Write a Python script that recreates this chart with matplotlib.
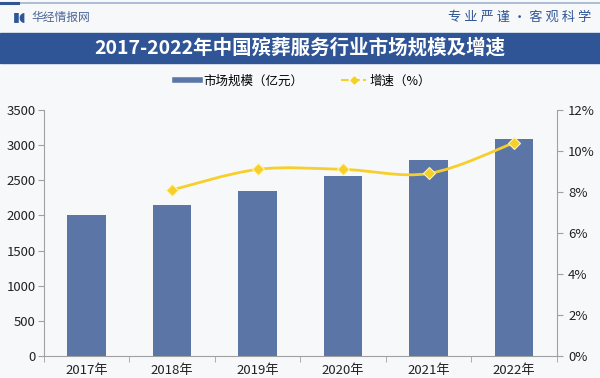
import numpy as np
import matplotlib.pyplot as plt
from matplotlib.path import Path
from matplotlib.patches import PathPatch, Rectangle
from matplotlib.lines import Line2D

plt.rcParams['font.family'] = ['Noto Sans CJK SC', 'DejaVu Sans']

years = ['2017年', '2018年', '2019年', '2020年', '2021年', '2022年']
market_size = [2000, 2150, 2350, 2560, 2790, 3090]      # 亿元
growth_years = [1, 2, 3, 4, 5]                           # index into years
growth_rate = [8.1, 9.1, 9.1, 8.9, 10.4]                 # %

bar_color = '#5a75a6'
line_color = '#f7cf2a'
bg = '#f7f8fa'
navy = '#2f5597'
axis_gray = '#a0a0a0'

fig = plt.figure(figsize=(6, 3.78), dpi=100, facecolor=bg)

# header decoration
fig.add_artist(Line2D([0, 1], [0.992, 0.992], color='#9fb3cf', lw=1.2))
fig.add_artist(Line2D([0, 0.03], [0.992, 0.992], color=navy, lw=2.2))
fig.add_artist(Rectangle((0, 0.833), 1, 0.08, color=navy, transform=fig.transFigure))
fig.text(0.5, 0.873, '2017-2022年中国殡葬服务行业市场规模及增速', color='white',
         fontsize=14, fontweight='bold', ha='center', va='center')
fig.text(0.022, 0.955, '▮◖', color=navy, fontsize=9, ha='left', va='center',
         family=['DejaVu Sans'])
fig.text(0.052, 0.955, '华经情报网', color='#4a6596', fontsize=8.5, ha='left', va='center')
fig.text(0.985, 0.955, '专 业 严 谨 • 客 观 科 学', color=navy, fontsize=9.5,
         ha='right', va='center')

ax = fig.add_axes([0.0733, 0.0582, 0.855, 0.651])
ax.set_facecolor('none')
x = np.arange(len(years))
ax.bar(x, market_size, width=0.45, color=bar_color, zorder=2)
ax.set_xlim(-0.5, len(years) - 0.5)
ax.set_ylim(0, 3500)
ax.set_yticks(np.arange(0, 3501, 500))
ax.set_xticks(x)
ax.set_xticklabels(years, fontsize=9.5, color='#222222')
ax.set_xticks(np.arange(-0.5, len(years), 1), minor=True)
ax.tick_params(axis='x', which='major', length=0, pad=6)
ax.tick_params(axis='x', which='minor', length=4, color=axis_gray)
ax.tick_params(axis='y', labelsize=9.5, length=4, color=axis_gray, pad=2,
               labelcolor='#222222')
for s in ['top', 'right']:
    ax.spines[s].set_visible(False)
for s in ['left', 'bottom']:
    ax.spines[s].set_color(axis_gray)

ax2 = ax.twinx()
ax2.set_ylim(0, 12)
ax2.set_yticks(np.arange(0, 13, 2))
ax2.set_yticklabels([f'{v}%' for v in range(0, 13, 2)])
ax2.tick_params(axis='y', labelsize=9.5, length=4, color=axis_gray, pad=4,
                labelcolor='#222222')
for s in ['top', 'left', 'bottom']:
    ax2.spines[s].set_visible(False)
ax2.spines['right'].set_color(axis_gray)

# smoothed line through the growth points (Catmull-Rom -> Bezier)
gx = np.array(growth_years, dtype=float)
gy = np.array(growth_rate, dtype=float)
verts = [(gx[0], gy[0])]
codes = [Path.MOVETO]
n = len(gx)
for i in range(n - 1):
    p0 = np.array([gx[max(i - 1, 0)], gy[max(i - 1, 0)]])
    p1 = np.array([gx[i], gy[i]])
    p2 = np.array([gx[i + 1], gy[i + 1]])
    p3 = np.array([gx[min(i + 2, n - 1)], gy[min(i + 2, n - 1)]])
    c1 = p1 + (p2 - p0) / 6
    c2 = p2 - (p3 - p1) / 6
    verts += [tuple(c1), tuple(c2), tuple(p2)]
    codes += [Path.CURVE4] * 3
ax2.add_patch(PathPatch(Path(verts, codes), fill=False, edgecolor=line_color,
                        lw=2, zorder=3))
ax2.plot(gx, gy, linestyle='none', marker='D', markersize=6.5,
         markerfacecolor=line_color, markeredgecolor='#fff3b0',
         markeredgewidth=0.8, zorder=4)

handles = [Line2D([], [], color=bar_color, lw=4),
           Line2D([], [], color=line_color, lw=1.5, linestyle='--', marker='D',
                  markersize=3.5)]
fig.legend(handles, ['市场规模（亿元）', '增速（%）'], loc='center',
           bbox_to_anchor=(0.505, 0.785), ncol=2, frameon=False, fontsize=9,
           handlelength=2.0, handletextpad=0.3, columnspacing=3.0)

fig.savefig('out.png', dpi=100, facecolor=bg)
